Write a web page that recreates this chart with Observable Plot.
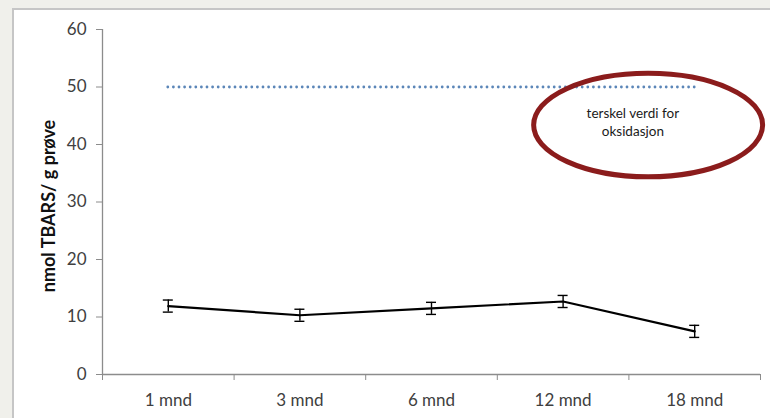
<!DOCTYPE html>
<html>
<head>
<meta charset="utf-8">
<script src="https://cdn.jsdelivr.net/npm/d3@7"></script>
<script src="https://cdn.jsdelivr.net/npm/@observablehq/plot@0.6"></script>
<style>
  html, body { margin: 0; padding: 0; background: #f0f0eb; width: 770px; height: 418px; overflow: hidden; }
  #panel { position: absolute; left: 12px; top: 8px; width: 800px; height: 430px; background: #fff; border: 2px solid #c6c6c6; box-sizing: border-box; }
  #chart { position: absolute; left: 0; top: 0; }
  #chart svg { background: transparent; }
</style>
</head>
<body>
<div id="panel"></div>
<div id="chart"></div>
<script>
const categories = ["1 mnd", "3 mnd", "6 mnd", "12 mnd", "18 mnd"];
const values = [11.9, 10.3, 11.5, 12.7, 7.5];
const errors = [1.05, 1.05, 1.05, 1.05, 1.05];
const yTicks = [0, 10, 20, 30, 40, 50, 60];
const threshold = 50;
const yLabel = "nmol TBARS/ g prøve";
const noteLines = ["terskel verdi for", "oksidasjon"];
const noteX = 3.53;
const noteY = [45.3, 42.2];
const ellipseCenter = [3.65, 43.3];
const ellipseRadii = [0.87, 9.0];

const data = categories.map((c, i) => ({i, c, v: values[i], e: errors[i]}));
const edges = d3.range(categories.length + 1).map(k => k - 0.5);
const centers = d3.range(categories.length);
const capHalf = 0.038;

const chart = Plot.plot({
  width: 770,
  height: 418,
  marginLeft: 102,
  marginRight: 10,
  marginTop: 29,
  marginBottom: 44,
  style: {fontFamily: "Lato, 'Open Sans', sans-serif", background: "transparent", overflow: "visible"},
  x: {type: "linear", domain: [-0.5, categories.length - 0.5]},
  y: {domain: [0, 60]},
  marks: [
    Plot.ruleY([0], {stroke: "#8c8c8c", strokeWidth: 1.3, x1: -0.5, x2: categories.length - 0.5}),
    Plot.ruleX([-0.5], {stroke: "#8c8c8c", strokeWidth: 1.3, y1: 0, y2: 60}),
    Plot.axisY({ticks: yTicks, tickSize: 6, tickPadding: 10, stroke: "#8c8c8c", color: "#404040", fontSize: 17, label: null}),
    Plot.axisX({ticks: edges, tickSize: 6, tickFormat: () => "", stroke: "#8c8c8c", label: null}),
    Plot.axisX({ticks: centers, tickSize: 0, tickPadding: 19, tickFormat: d => categories[d], color: "#404040", fontSize: 17, label: null}),
    Plot.text([yLabel], {frameAnchor: "left", textAnchor: "middle", dx: -53, dy: 4, rotate: -90, fontWeight: "bold", fontSize: 18, fill: "#111"}),
    Plot.ruleY([threshold], {x1: 0, x2: categories.length - 1, stroke: "#5b86b8", strokeWidth: 2.8, strokeDasharray: "0,5.6", strokeLinecap: "round"}),
    Plot.line(data, {x: "i", y: "v", stroke: "#000", strokeWidth: 2.2}),
    Plot.ruleX(data, {x: "i", y1: d => d.v - d.e, y2: d => d.v + d.e, stroke: "#000", strokeWidth: 1.4}),
    Plot.ruleY(data, {y: d => d.v + d.e, x1: d => d.i - capHalf, x2: d => d.i + capHalf, stroke: "#000", strokeWidth: 1.4}),
    Plot.ruleY(data, {y: d => d.v - d.e, x1: d => d.i - capHalf, x2: d => d.i + capHalf, stroke: "#000", strokeWidth: 1.4}),
    Plot.text(noteLines, {x: noteX, y: (d, k) => noteY[k], text: d => d, fontSize: 13.5, fill: "#1a1a1a"})
  ]
});

const xs = chart.scale("x"), ys = chart.scale("y");
const cx = xs.apply(ellipseCenter[0]), cy = ys.apply(ellipseCenter[1]);
const rx = Math.abs(xs.apply(ellipseCenter[0] + ellipseRadii[0]) - cx);
const ry = Math.abs(ys.apply(ellipseCenter[1] + ellipseRadii[1]) - cy);
d3.select(chart).append("ellipse")
  .attr("cx", cx).attr("cy", cy).attr("rx", rx).attr("ry", ry)
  .attr("fill", "none").attr("stroke", "#8b1c1c").attr("stroke-width", 5);

document.getElementById("chart").appendChild(chart);
</script>
</body>
</html>
